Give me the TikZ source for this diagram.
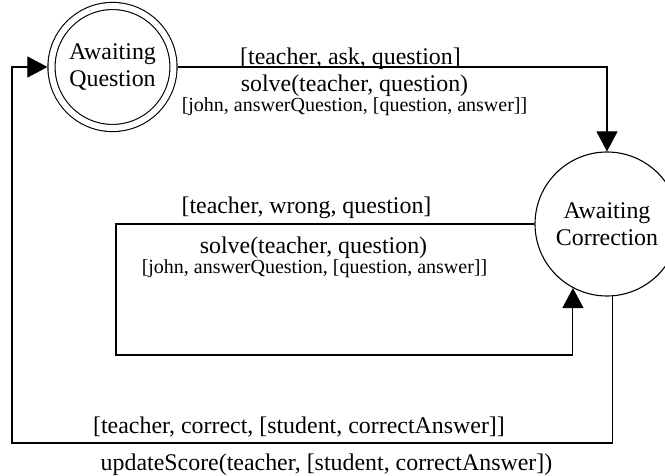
\documentclass[tikz,border=0pt]{standalone}
\usepackage{fontspec}
\setmainfont{Liberation Serif}
\usetikzlibrary{arrows.meta,positioning,calc}

\begin{document}
\begin{tikzpicture}[x=1pt,y=-1pt,line width=1.1pt,
  ar/.style={-{Triangle[length=20pt,width=21pt]}},
  st/.style={draw,circle,inner sep=0pt,align=center,font=\fontsize{23.9}{27.5}\selectfont},
  lab/.style={anchor=base,inner sep=0pt,font=\fontsize{23.9}{27.5}\selectfont},
  sm/.style={anchor=base,inner sep=0pt,font=\fontsize{20}{24}\selectfont}]
\useasboundingbox (0,0) rectangle (665,476);
\node[st,double,double distance=6pt,minimum size=122pt,outer sep=4.1pt] (aq) at (112.5,67) {Awaiting\\Question};
\node[st,minimum size=144pt] (ac) at (607,224) {Awaiting\\Correction};
\coordinate (wl) at (116,355);
\coordinate (cl) at (12,443);

% ask
\node[lab] (ask1) at (350.5,65) {[teacher, ask, question]};
\node[lab] (ask2) at (354.5,92) {solve(teacher, question)};
\node[sm] (ask3) at (354.5,112) {[john, answerQuestion, [question, answer]]};
% wrong
\node[lab] (wr1) at (306.5,214) {[teacher, wrong, question]};
\node[lab] (wr2) at (313.5,254) {solve(teacher, question)};
\node[sm] (wr3) at (314.5,274) {[john, answerQuestion, [question, answer]]};
% correct
\node[lab] (co1) at (299,433) {[teacher, correct, [student, correctAnswer]]};
\node[lab] (co2) at (326.5,470) {updateScore(teacher, [student, correctAnswer])};

\draw[ar] (aq.east) -| (ac.north);
\draw[ar] (ac.west) -| (wl) -| (ac.-118);
\draw[ar] (ac.-86) |- (cl) |- (aq.west);
\end{tikzpicture}
\end{document}
